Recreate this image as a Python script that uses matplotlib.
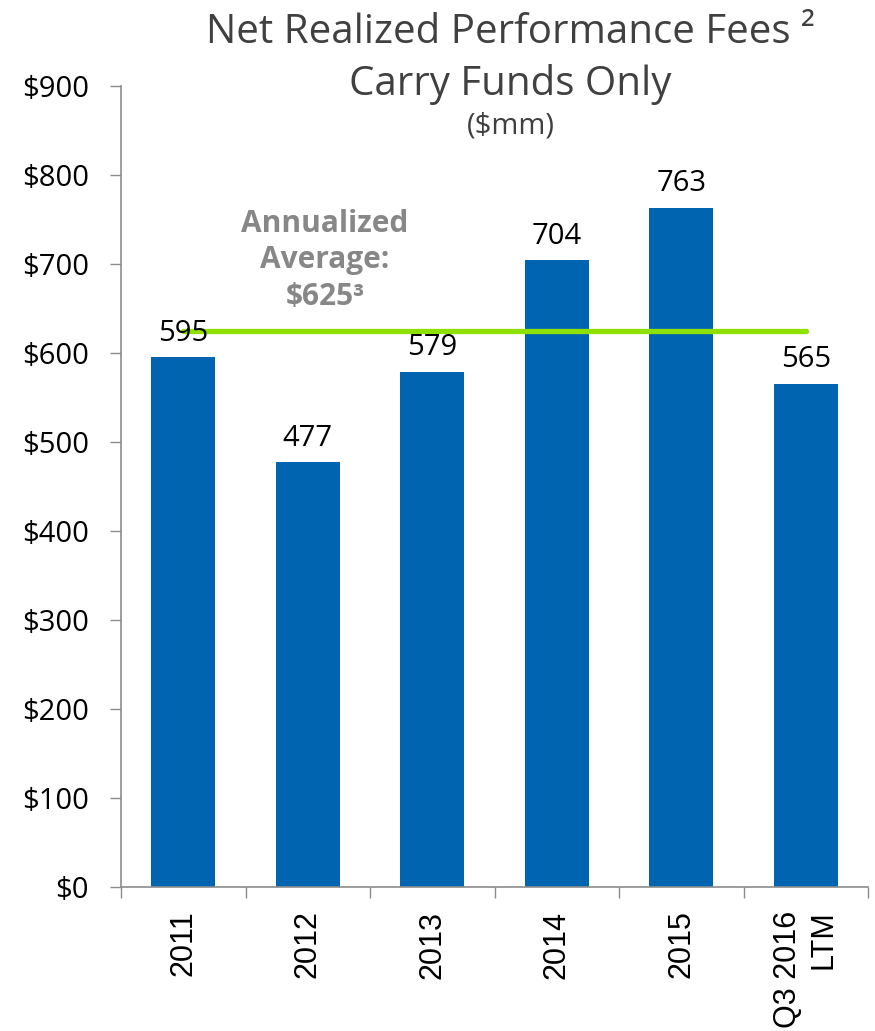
import numpy as np
import matplotlib
matplotlib.use("Agg")
import matplotlib.pyplot as plt

# data
categories = ["2011", "2012", "2013", "2014", "2015", "Q3 2016\nLTM"]
fees = [595, 477, 579, 704, 763, 565]
avg_value = 625
y_ticks = [0, 100, 200, 300, 400, 500, 600, 700, 800, 900]
y_tick_labels = [f"${v}" for v in y_ticks]

bar_color = "#0064B1"
avg_color = "#8EE000"
axis_gray = "#8C8C8C"

fig = plt.figure(figsize=(8.75, 10.31), dpi=100)
ax = fig.add_axes([121 / 875, 1 - 887 / 1031, (868 - 121) / 875, (887 - 86) / 1031])

x = np.arange(len(categories))
ax.bar(x, fees, width=0.515, color=bar_color, zorder=2)

# annualized average line, from first to last category
ax.plot([x[0], x[-1]], [avg_value, avg_value], color=avg_color, lw=3.8,
        solid_capstyle="round", zorder=3)

for xi, v in zip(x, fees):
    ax.annotate(str(v), (xi, v), xytext=(0, 7), textcoords="offset points",
                ha="center", va="bottom", fontsize=21, family="Open Sans",
                color="black", zorder=4)

ax.text(1.14, 704, "Annualized\nAverage:\n$625³", ha="center", va="center",
        fontsize=21.5, fontweight="bold", family="Open Sans", color="#878787",
        linespacing=1.3)

ax.set_xlim(-0.5, len(categories) - 0.5)
ax.set_ylim(0, 900)

ax.set_yticks(y_ticks)
ax.set_yticklabels(y_tick_labels, fontsize=21, family="Open Sans")
ax.tick_params(axis="y", length=8, width=1, color=axis_gray, pad=15)

# ticks at category boundaries, labels at centers
ax.set_xticks(np.arange(len(categories) + 1) - 0.5)
ax.set_xticklabels([])
ax.tick_params(axis="x", which="major", length=8, width=1, color=axis_gray)
ax.set_xticks(x, minor=True)
ax.set_xticklabels(categories, minor=True, rotation=90, fontsize=22,
                   family="Liberation Sans", multialignment="right")
ax.tick_params(axis="x", which="minor", length=0, pad=17)

for s in ["top", "right"]:
    ax.spines[s].set_visible(False)
for s in ["left", "bottom"]:
    ax.spines[s].set_color(axis_gray)
    ax.spines[s].set_linewidth(1.2)

fig.text(510 / 875, 1 - 43 / 1031, "Net Realized Performance Fees ²", ha="center",
         va="baseline", fontsize=29, family="Open Sans", color="#404040")
fig.text(510 / 875, 1 - 95 / 1031, "Carry Funds Only", ha="center",
         va="baseline", fontsize=29, family="Open Sans", color="#404040")
fig.text(511 / 875, 1 - 133 / 1031, "($mm)", ha="center",
         va="baseline", fontsize=21, family="Open Sans", color="#404040")

fig.savefig("out.png", dpi=100)
